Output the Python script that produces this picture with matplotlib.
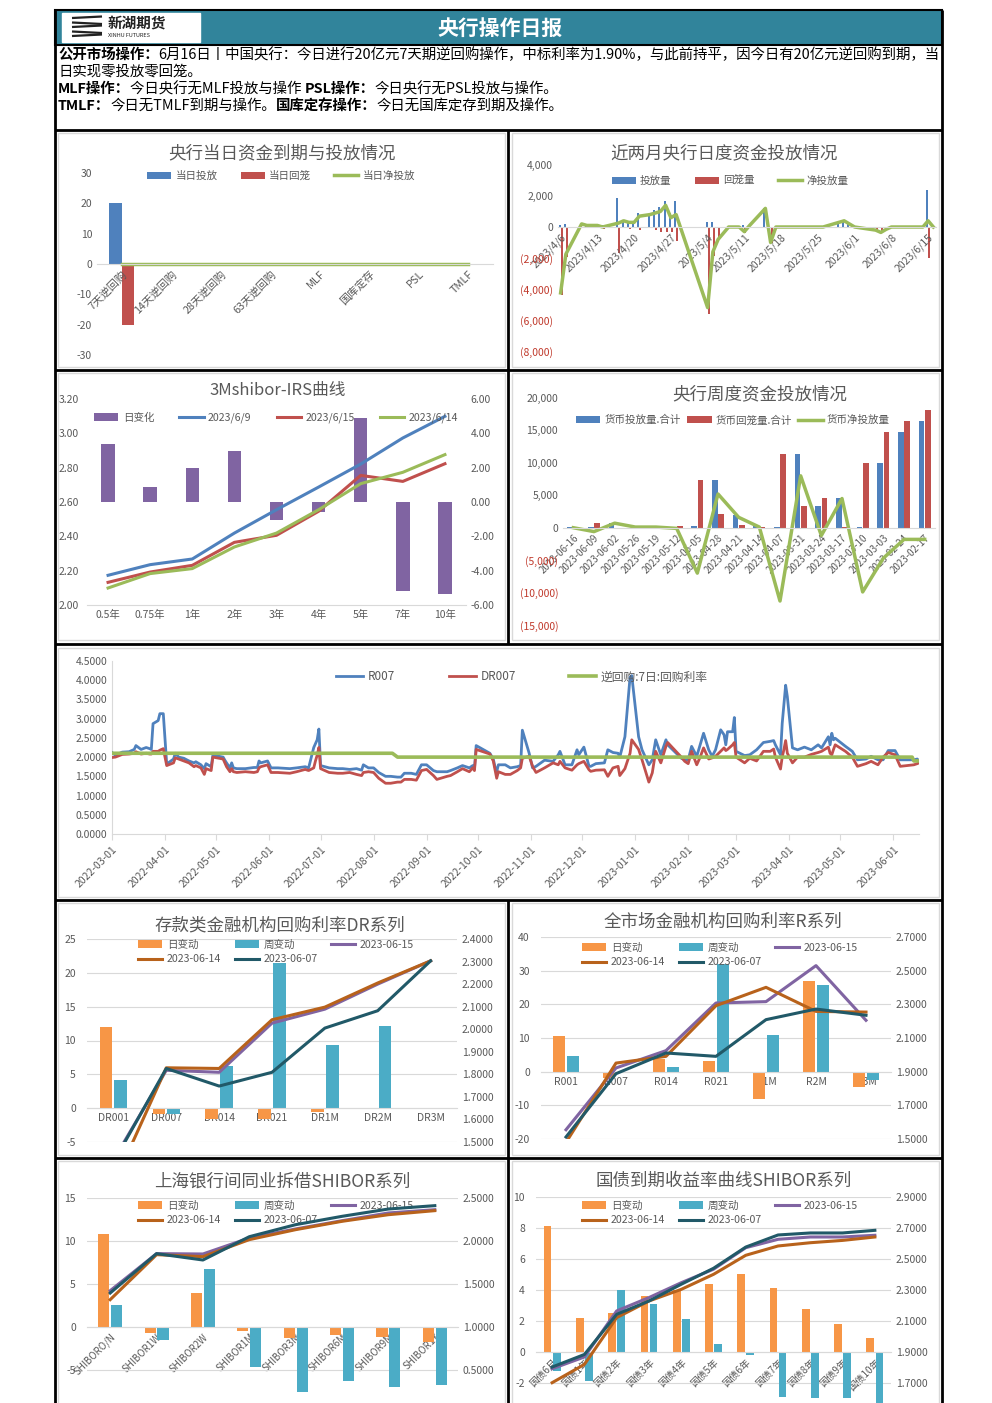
import matplotlib
matplotlib.use('Agg')
import matplotlib.pyplot as plt
import matplotlib.dates as mdates
from matplotlib.patches import Rectangle
from matplotlib.lines import Line2D
import numpy as np
import pandas as pd

plt.rcParams['font.family'] = ['Noto Sans CJK SC', 'DejaVu Sans']
plt.rcParams['axes.unicode_minus'] = False

# ---------------- data ----------------
# 央行当日资金到期与投放情况
p1_cats = ['7天逆回购', '14天逆回购', '28天逆回购', '63天逆回购', 'MLF', '国库定存', 'PSL', 'TMLF']
p1_put = [20, 0, 0, 0, 0, 0, 0, 0]
p1_back = [-20, 0, 0, 0, 0, 0, 0, 0]
p1_net = [0, 0, 0, 0, 0, 0, 0, 0]

# 近两月央行日度资金投放情况
p2_dates = ['2023-04-06', '2023-04-07', '2023-04-10', '2023-04-11', '2023-04-12', '2023-04-13',
            '2023-04-14', '2023-04-17', '2023-04-18', '2023-04-19', '2023-04-20', '2023-04-21',
            '2023-04-23', '2023-04-24', '2023-04-25', '2023-04-26', '2023-04-27', '2023-04-28',
            '2023-05-04', '2023-05-05', '2023-05-06', '2023-05-08', '2023-05-09', '2023-05-10',
            '2023-05-11', '2023-05-12', '2023-05-15', '2023-05-16', '2023-05-17', '2023-05-18',
            '2023-05-19', '2023-05-22', '2023-05-23', '2023-05-24', '2023-05-25', '2023-05-26',
            '2023-05-29', '2023-05-30', '2023-05-31', '2023-06-01', '2023-06-02', '2023-06-05',
            '2023-06-06', '2023-06-07', '2023-06-08', '2023-06-09', '2023-06-12', '2023-06-13',
            '2023-06-14', '2023-06-15', '2023-06-16']
p2_put = [100, 200, 200, 100, 100, 100, 100, 1850, 400, 400, 300, 900, 800, 1100, 1300, 1700, 900,
          1700, 300, 300, 0, 0, 0, 0, 100, 100, 1200, 0, 0, 0, 0, 0, 0, 0, 0, 0, 300, 400, 200, 0,
          0, 0, 0, 0, 0, 0, 0, 0, 0, 2400, 20]
p2_back = [-4370, -1950, 0, 0, 0, 0, -100, -1650, 0, -100, 0, -200, 0, -200, -300, -300, -300,
           -900, -5600, -1900, -800, 0, 0, 0, -400, 0, 0, -1000, 0, 0, 0, 0, 0, 0, 0, 0, 0, 0, 0,
           0, -50, -200, -350, -150, 0, 0, 0, 0, 0, -2000, -20]
p2_net = [-4250, -1750, 200, 100, 100, 100, 0, 250, 400, 300, 300, 700, 800, 900, 1000, 1400, 600,
          800, -5200, -1600, -800, 0, 0, 0, -300, 100, 1200, -1000, 0, 0, 0, 0, 0, 0, 0, 0, 300,
          400, 200, 0, -50, -200, -350, -150, 0, 0, 0, 0, 0, 400, 0]

# 3Mshibor-IRS曲线
p3_cats = ['0.5年', '0.75年', '1年', '2年', '3年', '4年', '5年', '7年', '10年']
p3_chg = [3.36, 0.87, 1.96, 2.97, -1.05, -0.58, 4.87, -5.18, -5.38]
p3_0609 = [2.173, 2.235, 2.268, 2.419, 2.555, 2.687, 2.821, 2.973, 3.099]
p3_0615 = [2.132, 2.192, 2.231, 2.365, 2.406, 2.546, 2.755, 2.720, 2.823]
p3_0614 = [2.099, 2.183, 2.212, 2.338, 2.419, 2.555, 2.707, 2.773, 2.876]

# 央行周度资金投放情况
p4_weeks = ['2023-06-16', '2023-06-09', '2023-06-02', '2023-05-26', '2023-05-19', '2023-05-12',
            '2023-05-05', '2023-04-28', '2023-04-21', '2023-04-14', '2023-04-07', '2023-03-31',
            '2023-03-24', '2023-03-17', '2023-03-10', '2023-03-03', '2023-02-24', '2023-02-17']
p4_put = [100, 100, 700, 0, 0, 100, 300, 7300, 2000, 200, 100, 11400, 3400, 4600, 100, 10000,
          14700, 16500]
p4_back = [100, 700, 0, 0, 0, 300, 7300, 2100, 400, 100, 11400, 3400, 4600, 100, 10000, 14700,
           16500, 18200]
p4_net = [0, -600, 700, 100, 100, -100, -7000, 5200, 1600, 100, -11300, 8000, -1200, 4500, -9900,
          -4700, -1800, -1800]

# R007 / DR007 / 逆回购7日
p5_dates = ['2022-03-01', '2022-03-03', '2022-03-07', '2022-03-11', '2022-03-14', '2022-03-15',
            '2022-03-18', '2022-03-21', '2022-03-23', '2022-03-24', '2022-03-25', '2022-03-28',
            '2022-03-29', '2022-03-31', '2022-04-02', '2022-04-06', '2022-04-07', '2022-04-09',
            '2022-04-12', '2022-04-15', '2022-04-18', '2022-04-19', '2022-04-22', '2022-04-24',
            '2022-04-25', '2022-04-28', '2022-04-29', '2022-05-05', '2022-05-06', '2022-05-07',
            '2022-05-09', '2022-05-10', '2022-05-11', '2022-05-13', '2022-05-18', '2022-05-23',
            '2022-05-25', '2022-05-26', '2022-05-27', '2022-05-31', '2022-06-02', '2022-06-06',
            '2022-06-13', '2022-06-17', '2022-06-22', '2022-06-24', '2022-06-27', '2022-06-28',
            '2022-06-29', '2022-06-30', '2022-07-01', '2022-07-06', '2022-07-11', '2022-07-14',
            '2022-07-18', '2022-07-22', '2022-07-25', '2022-07-26', '2022-07-29', '2022-08-01',
            '2022-08-04', '2022-08-08', '2022-08-11', '2022-08-15', '2022-08-17', '2022-08-19',
            '2022-08-23', '2022-08-26', '2022-08-29', '2022-09-01', '2022-09-05', '2022-09-07',
            '2022-09-13', '2022-09-15', '2022-09-19', '2022-09-22', '2022-09-26', '2022-09-28',
            '2022-09-29', '2022-09-30', '2022-10-08', '2022-10-10', '2022-10-11', '2022-10-12',
            '2022-10-13', '2022-10-17', '2022-10-20', '2022-10-24', '2022-10-26', '2022-10-27',
            '2022-10-31', '2022-11-02', '2022-11-04', '2022-11-09', '2022-11-14', '2022-11-17',
            '2022-11-18', '2022-11-21', '2022-11-25', '2022-11-28', '2022-11-29', '2022-12-02',
            '2022-12-05', '2022-12-06', '2022-12-09', '2022-12-14', '2022-12-16', '2022-12-19',
            '2022-12-22', '2022-12-23', '2022-12-26', '2022-12-29', '2022-12-30', '2023-01-03',
            '2023-01-05', '2023-01-09', '2023-01-11', '2023-01-13', '2023-01-16', '2023-01-19',
            '2023-01-20', '2023-01-28', '2023-01-30', '2023-02-01', '2023-02-03', '2023-02-06',
            '2023-02-08', '2023-02-10', '2023-02-13', '2023-02-15', '2023-02-17', '2023-02-20',
            '2023-02-22', '2023-02-23', '2023-02-24', '2023-02-27', '2023-02-28', '2023-03-01',
            '2023-03-06', '2023-03-09', '2023-03-13', '2023-03-17', '2023-03-21', '2023-03-23',
            '2023-03-24', '2023-03-27', '2023-03-28', '2023-03-29', '2023-03-30', '2023-03-31',
            '2023-04-03', '2023-04-06', '2023-04-10', '2023-04-14', '2023-04-18', '2023-04-20',
            '2023-04-24', '2023-04-25', '2023-04-26', '2023-04-27', '2023-04-28', '2023-05-04',
            '2023-05-08', '2023-05-11', '2023-05-16', '2023-05-19', '2023-05-23', '2023-05-26',
            '2023-05-29', '2023-06-02', '2023-06-05', '2023-06-09', '2023-06-13', '2023-06-15',
            '2023-06-16']
p5_r007 = [2.12, 2.05, 2.13, 2.14, 2.20, 2.30, 2.20, 2.25, 2.22, 2.20, 2.87, 2.95, 3.13, 3.13,
           1.82, 1.95, 2.10, 2.00, 1.97, 1.90, 1.85, 1.88, 1.80, 1.70, 1.83, 1.75, 2.05, 2.00,
           1.92, 1.85, 1.72, 1.85, 1.72, 1.70, 1.70, 1.73, 1.73, 1.90, 1.85, 1.90, 1.72, 1.72,
           1.70, 1.72, 1.75, 1.72, 2.25, 2.35, 2.45, 2.73, 1.78, 1.72, 1.70, 1.70, 1.68, 1.70,
           1.66, 1.80, 1.72, 1.72, 1.60, 1.50, 1.50, 1.48, 1.48, 1.58, 1.58, 1.55, 1.80, 1.80,
           1.65, 1.62, 1.62, 1.65, 1.72, 1.78, 1.72, 1.78, 1.70, 2.30, 2.10, 1.95, 1.75, 1.62,
           1.80, 1.80, 1.72, 1.75, 1.78, 2.70, 2.10, 1.72, 1.76, 1.92, 1.89, 2.06, 2.15, 1.80,
           1.80, 2.19, 2.06, 2.26, 1.76, 1.76, 1.83, 1.85, 2.19, 2.12, 2.10, 2.00, 2.53, 4.08,
           4.12, 2.53, 2.19, 1.80, 1.93, 2.45, 2.06, 2.45, 2.32, 1.97, 1.93, 1.93, 2.28, 2.02,
           2.32, 2.62, 2.19, 2.02, 2.19, 2.71, 2.58, 2.32, 2.66, 2.66, 3.03, 2.15, 2.04, 2.06,
           2.19, 2.38, 2.41, 2.43, 2.32, 2.06, 2.88, 3.39, 3.87, 3.57, 2.24, 2.19, 2.26, 2.19,
           2.32, 2.24, 2.53, 2.32, 2.62, 2.45, 2.49, 2.28, 2.15, 1.93, 1.95, 2.02, 1.93, 1.93,
           2.17, 2.17, 1.93, 1.93, 1.93, 1.95, 1.89]
p5_dr007 = [1.99, 2.00, 2.07, 2.08, 2.10, 2.14, 2.08, 2.10, 2.08, 2.08, 2.15, 2.15, 2.18, 2.22,
            1.78, 1.85, 1.98, 1.95, 1.90, 1.85, 1.75, 1.78, 1.72, 1.55, 1.70, 1.65, 2.00, 1.95,
            1.85, 1.75, 1.62, 1.70, 1.62, 1.60, 1.62, 1.60, 1.62, 1.72, 1.75, 1.80, 1.60, 1.60,
            1.58, 1.62, 1.68, 1.65, 1.72, 1.90, 2.05, 2.25, 1.70, 1.60, 1.58, 1.58, 1.60, 1.55,
            1.52, 1.60, 1.62, 1.60, 1.45, 1.32, 1.32, 1.35, 1.35, 1.42, 1.42, 1.40, 1.65, 1.68,
            1.52, 1.42, 1.50, 1.52, 1.62, 1.70, 1.62, 1.72, 1.65, 2.20, 2.08, 1.90, 1.68, 1.45,
            1.62, 1.55, 1.55, 1.65, 1.72, 1.97, 2.02, 1.76, 1.60, 1.72, 1.85, 1.80, 1.89, 1.72,
            1.66, 1.80, 1.83, 1.89, 1.67, 1.63, 1.66, 1.67, 1.50, 1.72, 1.76, 1.52, 1.70, 2.10,
            2.45, 2.20, 1.93, 1.35, 1.59, 2.15, 1.85, 2.28, 2.38, 2.00, 1.89, 1.83, 2.15, 1.80,
            2.00, 2.24, 1.95, 1.98, 2.02, 2.15, 2.24, 2.17, 2.20, 2.32, 2.38, 2.00, 1.85, 1.97,
            1.90, 2.15, 2.15, 2.21, 2.00, 1.69, 2.00, 2.20, 2.43, 2.10, 1.85, 2.00, 2.00, 2.07,
            2.12, 2.15, 2.26, 2.10, 2.06, 2.20, 2.32, 2.15, 2.00, 1.76, 1.83, 1.89, 1.80, 2.00,
            2.12, 2.06, 1.76, 1.78, 1.80, 1.83, 1.85]
rr_dates = ['2022-03-01', '2022-08-12', '2022-08-15', '2023-06-12', '2023-06-13', '2023-06-16']
rr_rate = [2.10, 2.10, 2.00, 2.00, 1.90, 1.90]

# 存款类金融机构回购利率DR系列
p6_cats = ['DR001', 'DR007', 'DR014', 'DR021', 'DR1M', 'DR2M', 'DR3M']
p6_day = [12.0, -0.9, -1.6, -1.6, -0.5, 0, 0]
p6_week = [4.2, -0.8, 6.2, 21.4, 9.4, 12.1, 0]
p6_0615 = [1.42, 1.818, 1.809, 2.027, 2.089, 2.200, 2.303]
p6_0614 = [1.31, 1.829, 1.826, 2.042, 2.098, 2.205, 2.303]
p6_0607 = [1.41, 1.826, 1.748, 1.809, 2.005, 2.082, 2.303]

# 全市场金融机构回购利率R系列
p7_cats = ['R001', 'R007', 'R014', 'R021', 'R1M', 'R2M', 'R3M']
p7_day = [10.7, -2.0, 3.7, 3.2, -8.1, 27.0, -4.5]
p7_week = [4.7, 0, 1.3, 32.0, 10.9, 25.8, -2.5]
p7_0615 = [1.555, 1.922, 2.025, 2.308, 2.316, 2.530, 2.205]
p7_0614 = [1.48, 1.951, 1.991, 2.292, 2.401, 2.258, 2.254]
p7_0607 = [1.512, 1.888, 2.011, 1.991, 2.209, 2.272, 2.235]

# 上海银行间同业拆借SHIBOR系列
p8_cats = ['SHIBORO/N', 'SHIBOR1W', 'SHIBOR2W', 'SHIBOR1M', 'SHIBOR3M', 'SHIBOR6M', 'SHIBOR9M',
           'SHIBOR1Y']
p8_day = [10.8, -0.7, 3.9, -0.5, -1.3, -0.9, -1.2, -1.7]
p8_week = [2.6, -1.5, 6.8, -4.6, -7.5, -6.3, -7.0, -6.8]
p8_0615 = [1.422, 1.853, 1.849, 2.035, 2.140, 2.236, 2.326, 2.364]
p8_0614 = [1.318, 1.841, 1.818, 2.016, 2.132, 2.229, 2.306, 2.353]
p8_0607 = [1.395, 1.853, 1.779, 2.050, 2.190, 2.287, 2.372, 2.411]

# 国债到期收益率曲线
p9_cats = ['国债6月', '国债1年', '国债2年', '国债3年', '国债4年', '国债5年', '国债6年', '国债7年',
           '国债8年', '国债9年', '国债10年']
p9_day = [8.1, 2.2, 2.5, 3.6, 4.0, 4.4, 5.0, 4.1, 2.8, 1.8, 0.9]
p9_week = [-1.2, -1.9, 4.0, 3.1, 2.1, 0.5, -0.2, -2.9, -3.0, -3.0, -3.4]
p9_0615 = [1.792, 1.868, 2.165, 2.251, 2.347, 2.434, 2.573, 2.627, 2.642, 2.642, 2.653]
p9_0614 = [1.702, 1.820, 2.122, 2.229, 2.304, 2.401, 2.524, 2.584, 2.605, 2.620, 2.642]
p9_0607 = [1.803, 1.884, 2.143, 2.229, 2.337, 2.440, 2.577, 2.655, 2.668, 2.668, 2.685]

# ---------------- style ----------------
GREY = '#595959'
AXL = '#D9D9D9'
BLUE = '#4F81BD'
RED = '#C0504D'
GREEN = '#9BBB59'
PURPLE = '#8064A2'
ORANGE = '#F79646'
TEAL = '#4BACC6'
BROWN = '#B8621B'
DTEAL = '#215968'
NEG = '#C0392B'

W, H = 992, 1403
fig = plt.figure(figsize=(W / 100, H / 100), dpi=100)


def fx(x):
    return x / W


def fy(y):
    return 1 - y / H


def rect_px(x0, y0, x1, y1):
    return [x0 / W, 1 - y1 / H, (x1 - x0) / W, (y1 - y0) / H]


def line_px(x0, y0, x1, y1, color='black', lw=2.0):
    fig.add_artist(Line2D([fx(x0), fx(x1)], [fy(y0), fy(y1)], transform=fig.transFigure,
                          color=color, lw=lw, solid_capstyle='butt'))


def frame_px(x0, y0, x1, y1, color=AXL, lw=1.0, fc='none'):
    fig.add_artist(Rectangle((fx(x0), fy(y1)), (x1 - x0) / W, (y1 - y0) / H,
                             transform=fig.transFigure, fc=fc, ec=color, lw=lw))


def clean(ax, grid=False):
    for s in ax.spines.values():
        s.set_visible(False)
    ax.spines['bottom'].set_visible(True)
    ax.spines['bottom'].set_color(AXL)
    ax.tick_params(length=0, labelsize=7.5, labelcolor=GREY)
    ax.patch.set_visible(False)
    if grid:
        ax.yaxis.grid(True, color=AXL, lw=0.8)
        ax.set_axisbelow(True)


def title_px(x, y, s, size=12.6):
    fig.text(fx(x), fy(y), s, fontsize=size, color=GREY, ha='center', va='center')


def legend_px(ax, handles, labels, x, y, ncol, size=7.6, colsp=1.6):
    ax.legend(handles, labels, loc='center', bbox_to_anchor=(fx(x), fy(y)),
              bbox_transform=fig.transFigure, ncol=ncol, frameon=False, fontsize=size,
              handlelength=2.3, handleheight=0.75, handletextpad=0.4, columnspacing=colsp,
              labelspacing=0.45, labelcolor=GREY, borderpad=0)


def acct(v):
    if v < 0:
        return '({:,.0f})'.format(-v)
    return '{:,.0f}'.format(v)


# ---------------- frame / header ----------------
fig.add_artist(Rectangle((fx(55), fy(45)), (942 - 55) / W, 35 / H, transform=fig.transFigure,
                         fc='#31849B', ec='black', lw=1.5))
frame_px(62, 13, 200, 42, color='white', fc='white')
for i in range(5):
    yy = 18 + i * 4.5
    line_px(72, yy, 102, yy + (1.5 if i % 2 else -1.5), color='#222222', lw=1.6)
fig.text(fx(108), fy(24), '新湖期货', fontsize=10.5, fontweight='bold', color='#222222',
         va='center', ha='left')
fig.text(fx(108), fy(35.5), 'XINHU FUTURES', fontsize=4, color='#222222', va='center', ha='left')
fig.text(fx(500), fy(28), '央行操作日报', fontsize=15, fontweight='bold', color='white',
         ha='center', va='center')

renderer = fig.canvas.get_renderer()


def rich(x, y, runs, size=10.4):
    for s, bold in runs:
        t = fig.text(fx(x), fy(y), s, fontsize=size, fontweight='bold' if bold else 'normal',
                     color='black', va='center', ha='left')
        x += t.get_window_extent(renderer=renderer).width


rich(58, 55, [('公开市场操作：', True),
              ('6月16日丨中国央行：今日进行20亿元7天期逆回购操作，中标利率为1.90%，与此前持平，因今日有20亿元逆回购到期，当', False)])
rich(58, 72, [('日实现零投放零回笼。', False)])
rich(58, 89, [('MLF操作：', True), ('今日央行无MLF投放与操作 ', False), ('PSL操作：', True),
              ('今日央行无PSL投放与操作。', False)])
rich(58, 106, [('TMLF：', True), ('今日无TMLF到期与操作。', False), ('国库定存操作：', True),
               ('今日无国库定存到期及操作。', False)])

# panel inner borders
for b in [(58, 133, 505, 367), (512, 133, 939, 367), (58, 373, 505, 640), (512, 373, 939, 640),
          (58, 648, 939, 897), (58, 903, 505, 1155), (512, 903, 939, 1155),
          (58, 1161, 505, 1410), (512, 1161, 939, 1410)]:
    frame_px(*b)

# thick black lines
line_px(55, 10, 55, 1403)
line_px(942, 10, 942, 1403)
for yy in [130, 370, 644, 900, 1158]:
    line_px(55, yy, 942, yy)
line_px(508, 130, 508, 644)
line_px(508, 900, 508, 1403)

# ---------------- panel 1 ----------------
ax1 = fig.add_axes(rect_px(97, 173, 493, 355))
clean(ax1)
x1 = np.arange(len(p1_cats))
b1 = ax1.bar(x1 - 0.125, p1_put, 0.25, color=BLUE)
b2 = ax1.bar(x1 + 0.125, p1_back, 0.25, color=RED)
l1, = ax1.plot(x1, p1_net, color=GREEN, lw=2.5)
ax1.set_xlim(-0.5, len(p1_cats) - 0.5)
ax1.set_ylim(-30, 30)
ax1.set_yticks(range(-30, 31, 10))
ax1.spines['bottom'].set_position(('data', 0))
ax1.set_xticks(x1, p1_cats, rotation=45, ha='right', rotation_mode='anchor', fontsize=7.8)
title_px(282, 153, '央行当日资金到期与投放情况')
legend_px(ax1, [b1, b2, l1], ['当日投放', '当日回笼', '当日净投放'], 281, 176, 3, colsp=2.2)

# ---------------- panel 2 ----------------
ax2 = fig.add_axes(rect_px(558, 165, 936, 351))
clean(ax2)
d2 = mdates.date2num(pd.to_datetime(p2_dates))
c1 = ax2.bar(d2 - 0.2, p2_put, 0.4, color=BLUE)
c2 = ax2.bar(d2 + 0.2, p2_back, 0.4, color=RED)
l2, = ax2.plot(d2, p2_net, color=GREEN, lw=2.5)
ax2.set_xlim(d2[0] - 0.5, d2[-1] + 0.5)
ax2.set_ylim(-8000, 4000)
yt2 = list(range(-8000, 4001, 2000))
ax2.set_yticks(yt2, [acct(v) for v in yt2])
for v, lab in zip(yt2, ax2.get_yticklabels()):
    if v < 0:
        lab.set_color(NEG)
ax2.spines['bottom'].set_position(('data', 0))
xt2 = pd.date_range('2023-04-06', '2023-06-16', freq='7D')
ax2.set_xticks(mdates.date2num(xt2), [f'{d.year}/{d.month}/{d.day}' for d in xt2],
               rotation=45, ha='right', rotation_mode='anchor')
title_px(724, 153, '近两月央行日度资金投放情况')
legend_px(ax2, [c1, c2, l2], ['投放量', '回笼量', '净投放量'], 730, 181, 3, colsp=2.2)

# ---------------- panel 3 ----------------
ax3 = fig.add_axes(rect_px(87, 399, 466, 605))
ax3r = ax3.twinx()
clean(ax3)
clean(ax3r)
ax3r.spines['bottom'].set_visible(False)
x3 = np.arange(len(p3_cats))
pb = ax3r.bar(x3, p3_chg, 0.32, color=PURPLE)
la, = ax3.plot(x3, p3_0609, color=BLUE, lw=2.2)
lb, = ax3.plot(x3, p3_0615, color=RED, lw=2.2)
lc, = ax3.plot(x3, p3_0614, color=GREEN, lw=2.2)
ax3.set_zorder(ax3r.get_zorder() + 1)
ax3.set_xlim(-0.5, len(p3_cats) - 0.5)
ax3.set_ylim(2.0, 3.2)
ax3.set_yticks(np.arange(2.0, 3.21, 0.2))
ax3.yaxis.set_major_formatter(lambda v, p: f'{v:.2f}')
ax3r.set_ylim(-6, 6)
ax3r.set_yticks(range(-6, 7, 2))
ax3r.yaxis.set_major_formatter(lambda v, p: f'{v:.2f}')
ax3.tick_params(axis='y', pad=6)
ax3.set_xticks(x3, p3_cats)
title_px(278, 391, '3Mshibor-IRS曲线', size=12)
legend_px(ax3, [pb, la, lb, lc], ['日变化', '2023/6/9', '2023/6/15', '2023/6/14'], 276, 418, 4,
          colsp=2.4)

# ---------------- panel 4 ----------------
ax4 = fig.add_axes(rect_px(563, 398, 935, 625))
clean(ax4)
x4 = np.arange(len(p4_weeks))
e1 = ax4.bar(x4 - 0.15, p4_put, 0.28, color=BLUE)
e2 = ax4.bar(x4 + 0.15, p4_back, 0.28, color=RED)
l4, = ax4.plot(x4, p4_net, color=GREEN, lw=2.5)
ax4.set_xlim(-0.5, len(p4_weeks) - 0.5)
ax4.set_ylim(-15000, 20000)
yt4 = list(range(-15000, 20001, 5000))
ax4.set_yticks(yt4, [acct(v) for v in yt4])
for v, lab in zip(yt4, ax4.get_yticklabels()):
    if v < 0:
        lab.set_color(NEG)
ax4.spines['bottom'].set_position(('data', 0))
ax4.set_xticks(x4, p4_weeks, rotation=45, ha='right', rotation_mode='anchor', fontsize=7)
title_px(760, 394, '央行周度资金投放情况')
legend_px(ax4, [e1, e2, l4], ['货币投放量.合计', '货币回笼量.合计', '货币净投放量'], 733, 420, 3,
          colsp=0.6)

# ---------------- panel 5 ----------------
ax5 = fig.add_axes(rect_px(112, 661, 919, 834))
clean(ax5)
ax5.spines['left'].set_visible(True)
ax5.spines['left'].set_color(AXL)
d5 = pd.to_datetime(p5_dates)
r1, = ax5.plot(d5, p5_r007, color=BLUE, lw=2.0, zorder=3)
r2, = ax5.plot(d5, p5_dr007, color=RED, lw=2.0, zorder=3)
r3, = ax5.plot(pd.to_datetime(rr_dates), rr_rate, color=GREEN, lw=2.6, zorder=4)
ax5.set_xlim(pd.Timestamp('2022-03-01'), pd.Timestamp('2023-06-16'))
ax5.set_ylim(0, 4.5)
ax5.set_yticks(np.arange(0, 4.51, 0.5))
ax5.yaxis.set_major_formatter(lambda v, p: f'{v:.4f}')
xt5 = pd.date_range('2022-03-01', '2023-06-01', freq='MS')
ax5.set_xticks(xt5, [d.strftime('%Y-%m-%d') for d in xt5], rotation=45, ha='right',
               rotation_mode='anchor')
ax5.tick_params(axis='x', length=4, color=AXL, direction='out')
legend_px(ax5, [r1, r2, r3], ['R007', 'DR007', '逆回购:7日:回购利率'], 522, 677, 3, size=8.5,
          colsp=4.5)


# ---------------- panels 6-9 ----------------
def curve_panel(box, cats, day, week, v15, v14, v07, lyl, lstep, lshow, ryl, rstep, rshow,
                title, tpos, lpos, rotate=False):
    ax = fig.add_axes(rect_px(*box))
    axr = ax.twinx()
    clean(ax, grid=True)
    clean(axr)
    axr.spines['bottom'].set_visible(False)
    x = np.arange(len(cats))
    h1 = ax.bar(x - 0.14, day, 0.24, color=ORANGE)
    h2 = ax.bar(x + 0.14, week, 0.24, color=TEAL)
    g1, = axr.plot(x, v15, color=PURPLE, lw=2.2)
    g2, = axr.plot(x, v14, color=BROWN, lw=2.2)
    g3, = axr.plot(x, v07, color=DTEAL, lw=2.2)
    ax.set_xlim(-0.5, len(cats) - 0.5)
    ax.set_ylim(*lyl)
    ax.set_yticks(np.arange(lshow, lyl[1] + 0.01, lstep))
    axr.set_ylim(*ryl)
    axr.set_yticks(np.arange(rshow, ryl[1] + 0.001, rstep))
    axr.yaxis.set_major_formatter(lambda v, p: f'{v:.4f}')
    ax.spines['bottom'].set_position(('data', 0))
    if rotate:
        ax.set_xticks(x, cats, rotation=45, ha='right', rotation_mode='anchor', fontsize=7)
    else:
        ax.set_xticks(x, cats)
    ax.tick_params(axis='y', pad=8)
    title_px(*tpos, title)
    legend_px(ax, [h1, g2, h2, g3, g1],
              ['日变动', '2023-06-14', '周变动', '2023-06-07', '2023-06-15'], *lpos, 3, colsp=1.3)
    return ax


curve_panel((87, 939, 457, 1142), p6_cats, p6_day, p6_week, p6_0615, p6_0614, p6_0607,
            (-5, 25), 5, -5, (1.5, 2.4), 0.1, 1.5, '存款类金融机构回购利率DR系列', (280, 925),
            (276, 952))
curve_panel((541, 937, 891, 1139), p7_cats, p7_day, p7_week, p7_0615, p7_0614, p7_0607,
            (-20, 40), 10, -20, (1.5, 2.7), 0.2, 1.5, '全市场金融机构回购利率R系列', (723, 922),
            (720, 955))
curve_panel((87, 1198, 458, 1413), p8_cats, p8_day, p8_week, p8_0615, p8_0614, p8_0607,
            (-10, 15), 5, -5, (0.0, 2.5), 0.5, 0.5, '上海银行间同业拆借SHIBOR系列', (282, 1182),
            (276, 1213), rotate=True)
curve_panel((536, 1197, 891, 1414), p9_cats, p9_day, p9_week, p9_0615, p9_0614, p9_0607,
            (-4, 10), 2, -2, (1.5, 2.9), 0.2, 1.7, '国债到期收益率曲线SHIBOR系列', (724, 1181),
            (720, 1213), rotate=True)

fig.savefig('out.png', dpi=100)
